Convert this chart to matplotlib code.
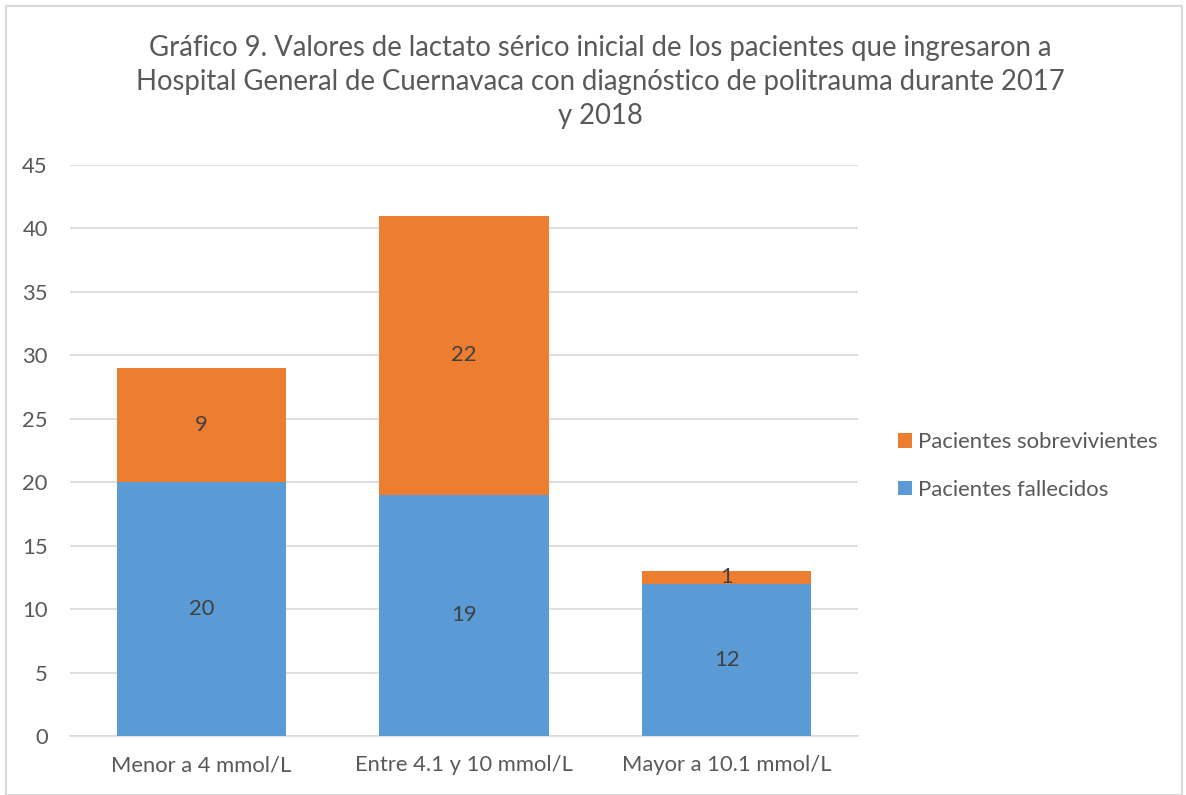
import numpy as np
import matplotlib.pyplot as plt
from matplotlib.patches import Rectangle

# datos del grafico
categorias = ['Menor a 4 mmol/L', 'Entre 4.1 y 10 mmol/L', 'Mayor a 10.1 mmol/L']
fallecidos = [20, 19, 12]
sobrevivientes = [9, 22, 1]
series_nombres = ['Pacientes fallecidos', 'Pacientes sobrevivientes']
yticks = [0, 5, 10, 15, 20, 25, 30, 35, 40, 45]

azul = '#5B9BD5'
naranja = '#ED7D31'
gris_texto = '#595959'

plt.rcParams['font.family'] = ['Lato', 'DejaVu Sans']

fig = plt.figure(figsize=(11.86, 7.95), dpi=100)
ax = fig.add_axes([70/1186, 1-736/795, (858-70)/1186, (736-165)/795])

x = np.arange(len(categorias))
w = 0.645
b1 = ax.bar(x, fallecidos, w, color=azul, label=series_nombres[0], zorder=3)
b2 = ax.bar(x, sobrevivientes, w, bottom=fallecidos, color=naranja,
            label=series_nombres[1], zorder=3)
ax.bar_label(b1, label_type='center', fontsize=15.8, color='#404040')
ax.bar_label(b2, label_type='center', fontsize=15.8, color='#404040')

ax.set_xlim(-0.5, 2.5)
ax.set_ylim(0, 45)
ax.set_yticks(yticks)
ax.set_xticks(x)
ax.set_xticklabels(categorias)
ax.tick_params(axis='both', length=0, labelsize=15.8, colors=gris_texto)
ax.tick_params(axis='y', pad=16)
ax.tick_params(axis='x', pad=14)
ax.yaxis.grid(True, color='#D9D9D9', linewidth=1.2, zorder=0)
for s in ['top', 'right', 'left']:
    ax.spines[s].set_visible(False)
ax.spines['bottom'].set_color('#D9D9D9')
ax.spines['bottom'].set_linewidth(1.2)

fig.text(600/1186, 1-82/795,
         'Gráfico 9. Valores de lactato sérico inicial de los pacientes que ingresaron a\n'
         'Hospital General de Cuernavaca con diagnóstico de politrauma durante 2017\n'
         'y 2018', fontsize=19.8, color=gris_texto, linespacing=1.36,
         ha='center', va='center', multialignment='center')

h, l = ax.get_legend_handles_labels()
fig.legend(h[::-1], l[::-1], loc='center left', bbox_to_anchor=(878/1186, 1-466/795),
           frameon=False, fontsize=15.9, labelcolor=gris_texto,
           handlelength=0.62, handleheight=0.62, handletextpad=0.3, labelspacing=1.25)

fig.patches.append(Rectangle((6/1186, 0), 1176/1186, 1-6/795, transform=fig.transFigure,
                             fill=False, edgecolor='#D9D9D9', linewidth=1.5))

fig.savefig('out.png', dpi=100)
